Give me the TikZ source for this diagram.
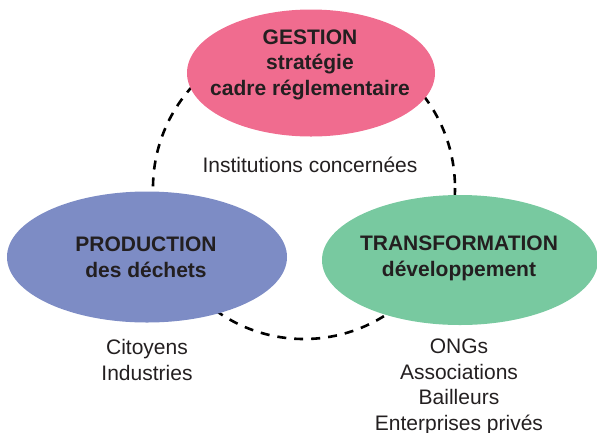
\documentclass[tikz,border=0pt]{standalone}
\usepackage{fontspec}
\setmainfont{Liberation Sans}
\usetikzlibrary{shapes.geometric}
\definecolor{gpink}{RGB}{240,108,143}
\definecolor{gblue}{RGB}{125,140,197}
\definecolor{ggreen}{RGB}{120,201,160}
\definecolor{gtext}{RGB}{35,31,32}
\tikzset{
  blob/.style={ellipse, inner sep=0pt, draw=none},
  title/.style={font=\fontsize{21}{25.5}\selectfont\bfseries, text=gtext, align=center, anchor=base, inner sep=0pt},
  plain/.style={font=\fontsize{21}{25.5}\selectfont, text=gtext, align=center, anchor=base, inner sep=0pt},
  ring/.style={line width=2.6pt, dash pattern=on 9pt off 8pt, draw=black}
}
\begin{document}
\begin{tikzpicture}[x=1pt,y=-1pt]
\useasboundingbox (0,0) rectangle (597,432);
\coordinate (hub) at (304,188);
\draw[ring] (hub) circle[radius=151];
\node[blob, fill=gpink, minimum width=248, minimum height=127] (gestion) at (311,73) {};
\node[blob, fill=gblue, minimum width=280, minimum height=131] (production) at (147,257) {};
\node[blob, fill=ggreen, minimum width=276, minimum height=130] (transformation) at (460,260) {};
\node[title] (gestionT) at (310,95) {GESTION\\strat\'egie\\cadre r\'eglementaire};
\node[title] (productionT) at (146,277) {PRODUCTION\\des d\'echets};
\node[title] (transformationT) at (459,276) {TRANSFORMATION\\d\'eveloppement};
\node[plain] (institutions) at (310,172) {Institutions concern\'ees};
\node[plain] (citoyens) at (147,380) {Citoyens\\Industries};
\node[plain] (ongs) at (459,430) {ONGs\\Associations\\Bailleurs\\Enterprises priv\'es};
\end{tikzpicture}
\end{document}
